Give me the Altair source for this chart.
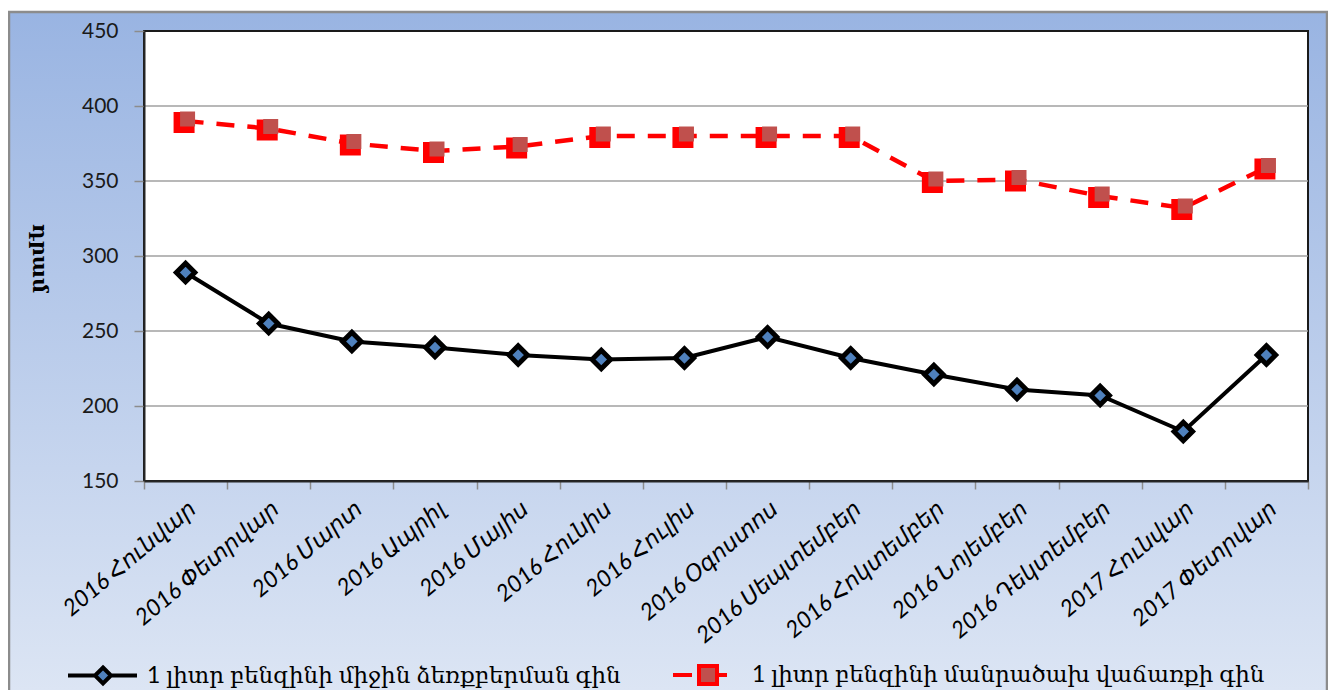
import altair as alt
import pandas as pd

months = ["2016 Հունվար", "2016 Փետրվար", "2016 Մարտ", "2016 Ապրիլ", "2016 Մայիս",
          "2016 Հունիս", "2016 Հուլիս", "2016 Օգոստոս", "2016 Սեպտեմբեր",
          "2016 Հոկտեմբեր", "2016 Նոյեմբեր", "2016 Դեկտեմբեր", "2017 Հունվար",
          "2017 Փետրվար"]
purchase = [289, 255, 243, 239, 234, 231, 232, 246, 232, 221, 211, 207, 183, 234]
retail = [390, 385, 375, 370, 373, 380, 380, 380, 380, 350, 351, 340, 332, 359]
series_names = ["1 լիտր բենզինի միջին ձեռքբերման գին",
                "1 լիտր բենզինի մանրածախ վաճառքի գին"]
y_ticks = [150, 200, 250, 300, 350, 400, 450]
grid_values = [200, 250, 300, 350, 400]
y_title = "դրամ"

W, H = 1164, 450

df = pd.DataFrame({"month": months, "purchase": purchase, "retail": retail})
grid_df = pd.DataFrame({"v": grid_values})
leg_df = pd.DataFrame({"series": series_names})

yscale = alt.Scale(domain=[150, 450], nice=False, zero=False)
yaxis = alt.Axis(values=y_ticks, title=y_title, titleFont="DejaVu Serif",
                 titleFontWeight="bold", titleFontSize=21, titleAngle=90,
                 titleColor="black", titleX=-106, titleY=227, titleAlign="center",
                 titleBaseline="middle",
                 labelFont="Lato, DejaVu Sans", labelFontSize=21, labelColor="#1a1a1a",
                 labelPadding=16, tickColor="#8c8c8c", tickSize=10, tickWidth=1.5,
                 domainColor="#262626", domainWidth=2, grid=False, zindex=1)
xenc = alt.X("month:N", sort=months,
             scale=alt.Scale(type="band", paddingInner=0, paddingOuter=0),
             axis=alt.Axis(title=None, labelAngle=-40, labelFont="Lato, DejaVu Sans",
                           labelFontStyle="italic", labelFontSize=23, labelColor="black",
                           labelAlign="right", labelBaseline="top", labelPadding=8,
                           labelLimit=0, labelOverlap=False,
                           tickBand="extent", tickColor="#8c8c8c", tickSize=8,
                           tickWidth=1.5, domainColor="#262626", domainWidth=2,
                           grid=False, zindex=1))

one = alt.Data(values=[{"k": 1}])

bg = alt.Chart(one).mark_rect(
    fill=alt.Gradient(gradient="linear",
                      stops=[alt.GradientStop(color="#99b4e2", offset=0),
                             alt.GradientStop(color="#e0e8f5", offset=1)],
                      x1=0, x2=0, y1=0, y2=1),
    stroke="#8c8c8c", strokeWidth=2.5
).encode(x=alt.value(-135), x2=alt.value(1183), y=alt.value(-19), y2=alt.value(700))

plot_rect = alt.Chart(one).mark_rect(fill="white", stroke="#1a1a1a", strokeWidth=2).encode(
    x=alt.value(0), x2=alt.value(W), y=alt.value(0), y2=alt.value(H))

grid = alt.Chart(grid_df).mark_rule(color="#a0a0a0", strokeWidth=1.5).encode(
    y=alt.Y("v:Q", scale=yscale, axis=yaxis))

base = alt.Chart(df)

red_line = base.mark_line(color="red", strokeWidth=4.5, strokeDash=[18, 13]).encode(
    x=xenc, y=alt.Y("retail:Q", scale=yscale, axis=yaxis))
red_pts1 = base.mark_point(shape="square", filled=True, fill="red", size=441, opacity=1,
                           xOffset=-1.5, yOffset=1.5).encode(
    x=xenc, y=alt.Y("retail:Q", scale=yscale, axis=yaxis))
red_pts2 = base.mark_point(shape="square", filled=True, fill="#c0504d", size=225, opacity=1,
                           xOffset=2, yOffset=-2).encode(
    x=xenc, y=alt.Y("retail:Q", scale=yscale, axis=yaxis))

black_line = base.mark_line(color="black", strokeWidth=4).encode(
    x=xenc, y=alt.Y("purchase:Q", scale=yscale, axis=yaxis))
black_pts = base.mark_point(shape="diamond", filled=True, fill="#4f81bd", stroke="black",
                            strokeWidth=5, size=340, opacity=1).encode(
    x=xenc, y=alt.Y("purchase:Q", scale=yscale, axis=yaxis))

path_black = "M-3.5,0L-0.8,0M0.8,0L3.4,0M0,-0.8L0.8,0L0,0.8L-0.8,0Z"
path_red = "M-3.5,0L-1.6,0M0.9,0L1.9,0M-0.9,-0.9L0.9,-0.9L0.9,0.9L-0.9,0.9Z"

leg = alt.Legend(title=None, orient="none", legendX=-53, legendY=632, direction="horizontal",
                 labelFont="Lato, DejaVu Serif", labelFontSize=23, labelColor="black",
                 labelLimit=0, labelOffset=32, columnPadding=44, symbolSize=400,
                 symbolStrokeWidth=4, symbolOpacity=1, padding=0)

legend_layer = alt.Chart(leg_df).transform_filter("false").mark_point(
    filled=True, size=400, strokeWidth=4, opacity=1).encode(
    shape=alt.Shape("series:N", scale=alt.Scale(domain=series_names, range=[path_black, path_red]), legend=leg),
    fill=alt.Fill("series:N", scale=alt.Scale(domain=series_names, range=["#4f81bd", "#c0504d"]), legend=leg),
    stroke=alt.Stroke("series:N", scale=alt.Scale(domain=series_names, range=["black", "red"]), legend=leg),
)

chart = alt.layer(bg, plot_rect, grid, red_line, red_pts1, red_pts2, black_line, black_pts,
                  legend_layer).properties(
    width=W, height=H,
    padding={"left": 136, "top": 23, "right": 20, "bottom": 209},
    autosize=alt.AutoSizeParams(type="none"),
    background="white",
).configure_view(strokeWidth=0)

chart.save("out.html", embed_options={"renderer": "svg", "actions": False})
